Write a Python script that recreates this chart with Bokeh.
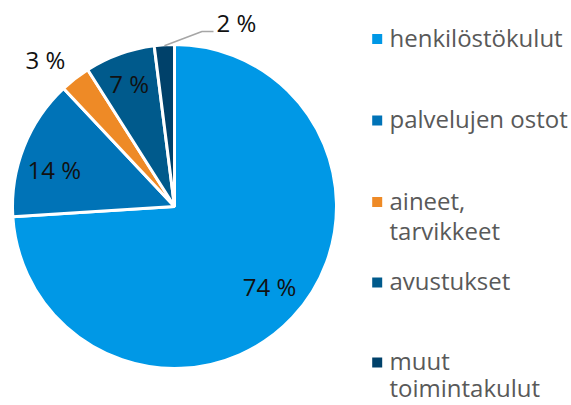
import math
from bokeh.plotting import figure
from bokeh.models import Range1d, ColumnDataSource
from bokeh.core.properties import value
from bokeh.embed import file_html
from bokeh.resources import INLINE

categories = ["henkilöstökulut", "palvelujen ostot", "aineet,\ntarvikkeet", "avustukset", "muut\ntoimintakulut"]
shares = [74, 14, 3, 7, 2]
slice_labels = ["74 %", "14 %", "3 %", "7 %", "2 %"]
colors = ["#0098E6", "#0073B7", "#EE8A26", "#005A8C", "#00416A"]

W, H = 571, 405
p = figure(width=W, height=H, output_backend="svg", toolbar_location=None,
           x_range=Range1d(0, W), y_range=Range1d(-H, 0),
           min_border=0, outline_line_color=None)
p.axis.visible = False
p.grid.visible = False
p.background_fill_color = "white"

cx, cy, R = 174.0, -206.0, 162.0
total = float(sum(shares))
starts, ends, mids = [], [], []
cum = 0.0
for s in shares:
    a0 = math.pi / 2 - 2 * math.pi * cum / total
    cum += s
    a1 = math.pi / 2 - 2 * math.pi * cum / total
    starts.append(a1)
    ends.append(a0)
    mids.append((a0 + a1) / 2)

src = ColumnDataSource(dict(start=starts, end=ends, color=colors))
p.wedge(x=cx, y=cy, radius=R, start_angle="start", end_angle="end",
        fill_color="color", line_color="white", line_width=3, source=src)

# slice labels: placed along each slice's mid angle, with small nudges
FONT = value("Open Sans")
lab_r = [125, 125, 195, 125]
nudge = [(4, 6), (-4, -9.5), (-9.5, -7.5), (-3, 5)]
lx, ly, lt = [], [], []
for i in range(4):
    lx.append(cx + lab_r[i] * math.cos(mids[i]) + nudge[i][0])
    ly.append(cy + lab_r[i] * math.sin(mids[i]) + nudge[i][1])
    lt.append(slice_labels[i])
p.text(x=lx, y=ly, text=lt, text_align="center", text_baseline="middle",
       text_font=FONT, text_font_size="24px", text_color="#111111")

# leader line for the smallest slice
m = mids[4]
ex, ey = cx + (R - 1) * math.cos(m), cy + (R - 1) * math.sin(m)
p.line(x=[ex, 201.5, 213], y=[ey, -31, -31], line_color="#a6a6a6", line_width=1.5)
p.text(x=[216], y=[-22], text=[slice_labels[4]], text_align="left", text_baseline="middle",
       text_font=FONT, text_font_size="24px", text_color="#111111")

# legend
row_y = [38.5, 120, 201.5, 282, 362]
line_h = [30, 30, 30, 30, 26.5]
for i, c in enumerate(categories):
    y0 = -row_y[i]
    p.rect(x=[376.7], y=[y0], width=10, height=10, fill_color=colors[i], line_color=None)
    lines = c.split("\n")
    p.text(x=[389] * len(lines), y=[y0 + 1.7 - k * line_h[i] for k in range(len(lines))], text=lines,
           text_align="left", text_baseline="alphabetic", text_font=FONT,
           text_font_size="24px", text_color="#595959")

open("out.html", "w").write(file_html(p, INLINE))
